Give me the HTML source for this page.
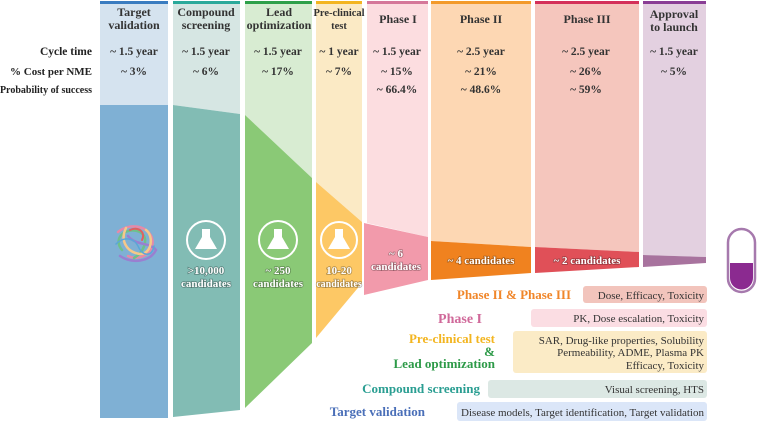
<!DOCTYPE html>
<html><head><meta charset="utf-8"><style>
html,body{margin:0;padding:0;background:#fff;width:758px;height:422px;overflow:hidden}
svg{display:block}
text{font-family:"Liberation Serif",serif;font-weight:bold;fill:#333}
.h{font-size:12px;text-anchor:middle}
.v{font-size:11.5px;text-anchor:middle}
.lab{font-size:11.5px;text-anchor:end;fill:#222}
.w{fill:#fff;font-size:11px;text-anchor:middle;paint-order:stroke;stroke:rgba(0,0,0,0.3);stroke-width:1.5px}
.bx{font-weight:normal;font-size:11px;text-anchor:end;fill:#333}
.t{font-size:13px;text-anchor:end}
</style></head><body>
<svg width="758" height="422" viewBox="0 0 758 422">
<rect x="100" y="4" width="68" height="101" fill="#d5e3ef"/>
<polygon points="173,4 240,4 240,114 173,105" fill="#d6e6e3"/>
<polygon points="245,4 312,4 312,178 245,115" fill="#d8ecd2"/>
<polygon points="316,4 362,4 362,222 316,182" fill="#fbeac5"/>
<polygon points="367,4 428,4 428,237 367,223" fill="#fcdde0"/>
<polygon points="431,4 531,4 531,247 431,241" fill="#fdd7b3"/>
<polygon points="535,4 639,4 639,252 535,247" fill="#f5c6bd"/>
<polygon points="643,4 706,4 706,257 643,255" fill="#e3d0e0"/>
<rect x="100" y="1" width="68" height="3" fill="#3a7cc0"/>
<rect x="173" y="1" width="67" height="3" fill="#2aa99a"/>
<rect x="245" y="1" width="67" height="3" fill="#2ea04a"/>
<rect x="316" y="1" width="46" height="3" fill="#f3b520"/>
<rect x="367" y="1" width="61" height="3" fill="#d5779a"/>
<rect x="431" y="1" width="100" height="3" fill="#f39a2a"/>
<rect x="535" y="1" width="104" height="3" fill="#d4305a"/>
<rect x="643" y="1" width="63" height="3" fill="#8a3d95"/>
<rect x="100" y="105" width="68" height="313" fill="#7fb0d4"/>
<polygon points="173,105 240,114 240,410 173,417" fill="#82bcb4"/>
<polygon points="245,115 312,178 312,343 245,408" fill="#8ac976"/>
<polygon points="316,182 362,222 362,283 316,338" fill="#fdc865"/>
<polygon points="364,223 428,237 428,280 364,295" fill="#f29aab"/>
<polygon points="431,241 531,247 531,273 431,280" fill="#f0821f"/>
<polygon points="535,247 639,252 639,267 535,273" fill="#e05058"/>
<polygon points="643,255 706,257 706,263 643,267" fill="#a8739e"/>
<text class="h" x="134" y="16">Target</text><text class="h" x="134" y="29">validation</text>
<text class="h" x="206" y="16">Compound</text><text class="h" x="206" y="29">screening</text>
<text class="h" x="279" y="16">Lead</text><text class="h" x="279" y="29">optimization</text>
<text class="h" x="339" y="16" style="font-size:10.5px">Pre-clinical</text><text class="h" x="339" y="29" style="font-size:10.5px">test</text>
<text class="h" x="398" y="23">Phase I</text>
<text class="h" x="481" y="23">Phase II</text>
<text class="h" x="587" y="23">Phase III</text>
<text class="h" x="674" y="18">Approval</text><text class="h" x="674" y="31">to launch</text>
<text class="lab" x="92" y="55">Cycle time</text>
<text class="lab" x="92" y="75" style="font-size:11px">% Cost per NME</text>
<text class="lab" x="92" y="93" style="font-size:10px">Probability of success</text>
<text class="v" x="134" y="55">~ 1.5 year</text><text class="v" x="134" y="75">~ 3%</text>
<text class="v" x="206" y="55">~ 1.5 year</text><text class="v" x="206" y="75">~ 6%</text>
<text class="v" x="278" y="55">~ 1.5 year</text><text class="v" x="278" y="75">~ 17%</text>
<text class="v" x="339" y="55">~ 1 year</text><text class="v" x="339" y="75">~ 7%</text>
<text class="v" x="397" y="55">~ 1.5 year</text><text class="v" x="397" y="75">~ 15%</text><text class="v" x="397" y="93">~ 66.4%</text>
<text class="v" x="481" y="55">~ 2.5 year</text><text class="v" x="481" y="75">~ 21%</text><text class="v" x="481" y="93">~ 48.6%</text>
<text class="v" x="586" y="55">~ 2.5 year</text><text class="v" x="586" y="75">~ 26%</text><text class="v" x="586" y="93">~ 59%</text>
<text class="v" x="674" y="55">~ 1.5 year</text><text class="v" x="674" y="75">~ 5%</text>
<g fill="none" stroke-width="2.5" stroke-linecap="round">
<path d="M118,232 C130,222 148,226 152,238 C156,252 140,262 128,256" stroke="#e58aa8"/>
<path d="M122,250 C112,238 126,226 140,232 C150,238 144,252 134,258" stroke="#6fc08a"/>
<path d="M128,236 C136,246 150,242 156,250 C150,262 132,264 120,256" stroke="#9a7fd0"/>
<path d="M126,228 C120,240 126,252 140,254 C152,254 154,236 146,230" stroke="#f5c88a"/>
<path d="M116,244 C124,236 134,238 138,246 C142,256 152,258 154,246" stroke="#5aa6d8" stroke-width="1.5"/>
<path d="M130,230 C138,226 146,232 142,240" stroke="#e06060" stroke-width="2"/>
</g>
<g stroke="#fff" stroke-width="2" fill="none">
<circle cx="206" cy="240" r="19"/><circle cx="278" cy="240" r="19"/><circle cx="339" cy="240" r="18"/>
</g>
<g fill="#fff">
<path d="M202,229 h8 v8 l7,12 h-22 l7,-12 z"/>
<path d="M274,229 h8 v8 l7,12 h-22 l7,-12 z"/>
<path d="M335,229 h8 v8 l7,12 h-22 l7,-12 z"/>
</g>
<text class="w" x="206" y="274">&gt;10,000</text><text class="w" x="206" y="287">candidates</text>
<text class="w" x="278" y="274">~ 250</text><text class="w" x="278" y="287">candidates</text>
<text class="w" x="339" y="274">10-20</text><text class="w" x="339" y="287" style="font-size:10px">candidates</text>
<text class="w" x="396" y="257">~ 6</text><text class="w" x="396" y="270">candidates</text>
<text class="w" x="481" y="264">~ 4 candidates</text>
<text class="w" x="587" y="264">~ 2 candidates</text>
<rect x="728" y="229" width="27" height="63" rx="13.5" fill="#fff" stroke="#a679ad" stroke-width="2.5"/>
<path d="M730,263 h23 v15 a11.5,11.5 0 0 1 -23,0 z" fill="#8b2a90"/>
<rect x="583" y="286" width="124" height="17" rx="3" fill="#f2c4bc"/>
<rect x="531" y="309" width="176" height="18" rx="3" fill="#fbdde3"/>
<rect x="513" y="331" width="194" height="42" rx="3" fill="#fbebc6"/>
<rect x="488" y="380" width="219" height="18" rx="3" fill="#dce8e4"/>
<rect x="457" y="402" width="250" height="19" rx="3" fill="#dbe6f8"/>
<text class="bx" x="704" y="299">Dose, Efficacy, Toxicity</text>
<text class="bx" x="704" y="322">PK, Dose escalation, Toxicity</text>
<text class="bx" x="704" y="344">SAR, Drug-like properties, Solubility</text>
<text class="bx" x="704" y="356">Permeability, ADME, Plasma PK</text>
<text class="bx" x="704" y="369">Efficacy, Toxicity</text>
<text class="bx" x="704" y="393">Visual screening, HTS</text>
<text class="bx" x="704" y="416">Disease models, Target identification, Target validation</text>
<text class="t" x="571" y="299" style="fill:#f0862a">Phase II &amp; Phase III</text>
<text class="t" x="482" y="323" style="fill:#d0699a;font-size:14px">Phase I</text>
<text class="t" x="495" y="343" style="fill:#f3b520">Pre-clinical test</text>
<text class="t" x="495" y="356" style="fill:#2d9a48">&amp;</text>
<text class="t" x="495" y="368" style="fill:#2d9a48">Lead optimization</text>
<text class="t" x="480" y="393" style="fill:#2a9e92">Compound screening</text>
<text class="t" x="425" y="416" style="fill:#4a6fb8">Target validation</text>
</svg>
</body></html>
